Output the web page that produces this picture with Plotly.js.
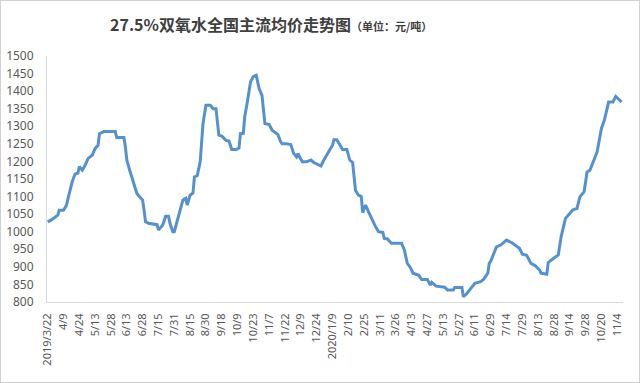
<!DOCTYPE html>
<html>
<head>
<meta charset="utf-8">
<script src="https://cdn.plot.ly/plotly-3.0.1.min.js"></script>
<style>
html,body{margin:0;padding:0;background:#fff;}
#wrap{position:relative;width:640px;height:383px;}
#chart{width:640px;height:383px;}
#frame{position:absolute;left:0;top:0;width:640px;height:383px;box-sizing:border-box;border:1px solid #d0d0d0;pointer-events:none;}
</style>
</head>
<body>
<div id="wrap"><div id="chart"></div><div id="frame"></div></div>
<script>
// Category tick labels (one every 11 trading days)
const tickLabels = ["2019/3/22","4/9","4/24","5/13","5/28","6/13","6/28","7/15","7/31","8/15","8/30","9/18","10/9","10/23","11/7","11/22","12/9","12/24","2020/1/9","2/10","2/25","3/11","3/26","4/13","4/27","5/13","5/27","6/11","6/29","7/14","7/29","8/13","8/28","9/14","9/28","10/20","11/4"];
const labelStep = 11;

// Trading-day index of each sampled point
const tradingDay = [0,3,7,8,11,13,15,17,19,21,22,24,26,28,31,33,35,36,39,47,48,53,54,55,57,59,60,62,64,66,67,68,70,76,77,80,82,84,85,87,88,90,92,94,96,97,99,101,102,104,106,107,108,110,113,115,117,119,121,124,126,128,131,133,134,136,137,139,141,143,145,147,149,151,154,156,160,162,163,166,169,171,173,174,177,180,183,185,188,190,192,196,198,199,201,203,205,208,210,212,214,216,218,219,221,223,226,228,230,233,234,236,239,246,248,250,252,254,258,260,264,266,267,270,276,278,282,283,288,289,291,295,297,301,303,306,307,308,310,312,315,319,323,325,328,330,333,336,339,342,343,347,348,350,352,355,357,360,363,365,368,370,373,375,377,379,382,385,387,390,393,395,397,399];

// Price (元/吨)
const price = [1028,1035,1047,1061,1061,1075,1109,1142,1164,1167,1185,1175,1189,1208,1218,1237,1246,1279,1285,1285,1268,1268,1241,1204,1175,1147,1130,1109,1099,1090,1061,1028,1024,1020,1005,1019,1044,1044,1024,1000,1000,1028,1061,1090,1095,1076,1104,1110,1156,1160,1199,1251,1308,1360,1360,1350,1350,1275,1272,1260,1258,1234,1234,1238,1279,1280,1327,1374,1426,1442,1445,1407,1388,1308,1305,1289,1277,1256,1250,1250,1248,1223,1213,1222,1199,1199,1204,1197,1192,1187,1204,1232,1246,1262,1262,1248,1234,1234,1204,1197,1118,1104,1100,1054,1076,1057,1028,1014,1000,998,981,980,967,967,948,910,899,882,876,864,864,848,856,845,842,834,834,841,841,815,822,842,853,858,864,882,910,916,938,957,962,976,968,962,953,936,933,910,903,891,882,879,912,919,924,934,986,1038,1052,1062,1066,1099,1114,1170,1175,1194,1227,1294,1317,1369,1369,1385,1378,1369];

const tickVals = tickLabels.map((_, i) => i * labelStep);

const trace = {
  x: tradingDay,
  y: price,
  type: 'scatter',
  mode: 'lines',
  line: {color: '#5591cf', width: 3},
  hoverinfo: 'skip'
};

const layout = {
  width: 640,
  height: 383,
  margin: {l: 47, r: 17, t: 56, b: 81},
  paper_bgcolor: '#ffffff',
  plot_bgcolor: '#ffffff',
  showlegend: false,
  font: {family: 'Noto Sans, sans-serif', color: '#595959', size: 11},
  title: {
    text: '<b>27.5%双氧水全国主流均价走势图</b><b><span style="font-size:11px">（单位：元/吨）</span></b>',
    font: {family: 'Noto Sans CJK SC, sans-serif', size: 16, color: '#404040'},
    xref: 'container', yref: 'container',
    x: 110 / 640, xanchor: 'left',
    y: 1 - 25 / 383, yanchor: 'middle'
  },
  xaxis: {
    range: [-0.5, 400],
    tickmode: 'array',
    tickvals: tickVals,
    ticktext: tickLabels,
    tickangle: -90,
    ticks: '',
    showgrid: false,
    zeroline: false,
    showline: true,
    linecolor: '#d9d9d9',
    linewidth: 1,
    ticklabelstandoff: 6,
    tickfont: {family: 'Noto Sans, sans-serif', size: 11, color: '#595959'},
    fixedrange: true
  },
  yaxis: {
    range: [800, 1500],
    tickmode: 'linear',
    tick0: 800,
    dtick: 50,
    ticks: '',
    showgrid: false,
    zeroline: false,
    showline: true,
    linecolor: '#d9d9d9',
    linewidth: 1,
    ticklabelstandoff: 10,
    tickfont: {family: 'Noto Sans, sans-serif', size: 12, color: '#595959'},
    fixedrange: true
  }
};

Plotly.newPlot('chart', [trace], layout, {displayModeBar: false, staticPlot: true});
</script>
</body>
</html>
